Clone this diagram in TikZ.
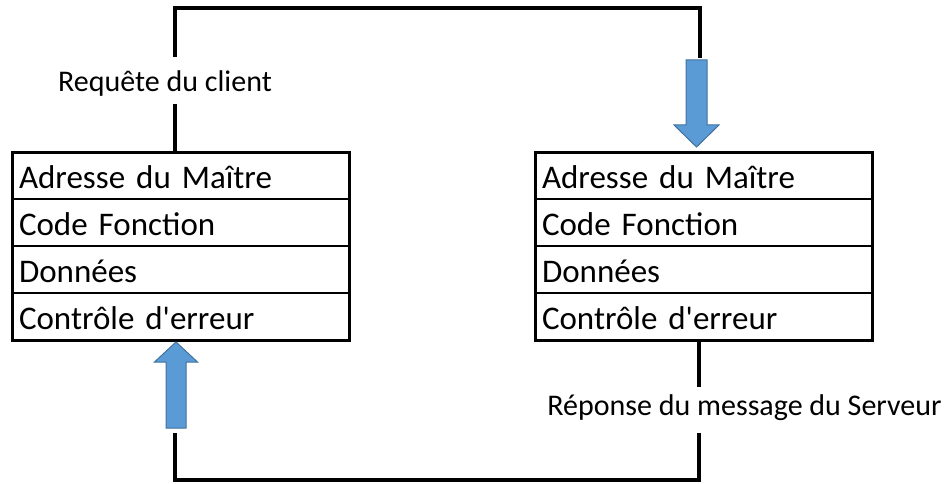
\documentclass[tikz,border=0pt]{standalone}
\usepackage{fontspec}
\setmainfont{Carlito}[Ligatures=TeXOff]
\usetikzlibrary{calc}
\definecolor{arrfill}{HTML}{5B9BD5}
\definecolor{arredge}{HTML}{41719C}
\begin{document}
\begin{tikzpicture}[x=1pt,y=-1pt,
  row/.style={draw=black, line width=1.2pt, outer sep=0pt, anchor=north west,
    minimum width=337pt, minimum height=47pt, text width=323pt, inner xsep=7pt,
    inner ysep=0pt, text height=25pt, text depth=0pt, align=left,
    font=\fontsize{33}{38}\selectfont},
  frame/.style={draw=black, line width=3pt},
  wire/.style={draw=black, line width=4pt},
  lbl/.style={font=\fontsize{30}{34}\selectfont, anchor=base, inner sep=0pt},
  bigarrow/.style={fill=arrfill, draw=arredge, line width=1pt, line join=miter}
]
\useasboundingbox (0,0) rectangle (950,484);

% left frame
\node[row] (L1) at (12,152) {Adresse du Maître};
\node[row] (L2) at (L1.south west) {Code Fonction};
\node[row] (L3) at (L2.south west) {Données};
\node[row] (L4) at (L3.south west) {Contrôle d'erreur};
\draw[frame] (L1.north west) rectangle (L4.south east);

% right frame
\node[row] (R1) at (535,152) {Adresse du Maître};
\node[row] (R2) at (R1.south west) {Code Fonction};
\node[row] (R3) at (R2.south west) {Données};
\node[row] (R4) at (R3.south west) {Contrôle d'erreur};
\draw[frame] (R1.north west) rectangle (R4.south east);

% labels
\node[lbl] (req) at (165,92) {Requête du client};
\node[lbl] (rep) at (744.5,415) {Réponse du message du Serveur};

% wires
\coordinate (ltop) at (175,57);
\coordinate (rtop) at (700,58);
\coordinate (lreq) at (175,104);
\coordinate (lfr) at (175,152);
\coordinate (rfr) at (699,340);
\coordinate (rrep) at (699,387);
\coordinate (rbot) at (699,433);
\coordinate (lbot) at (175,433);
\draw[wire] (ltop) -- (175,8) -- (700,8) -- (rtop);
\draw[wire] (lreq) -- (lfr);
\draw[wire] (rfr) -- (rrep);
\draw[wire] (rbot) -- (699,480) -- (175,480) -- (lbot);

% blue arrows
\coordinate (dtip) at (696.5,147);
\draw[bigarrow] ($(dtip)+(-10.5,-87)$) -- ++(21,0) -- ++(0,65) -- ++(12,0) -- (dtip)
  -- ++(-22.5,-22) -- ++(12,0) -- cycle;
\coordinate (utip) at (176,342);
\draw[bigarrow] ($(utip)+(-10,86)$) -- ++(20,0) -- ++(0,-66) -- ++(11.5,0) -- (utip)
  -- ++(-21.5,20) -- ++(11.5,0) -- cycle;
\end{tikzpicture}
\end{document}
